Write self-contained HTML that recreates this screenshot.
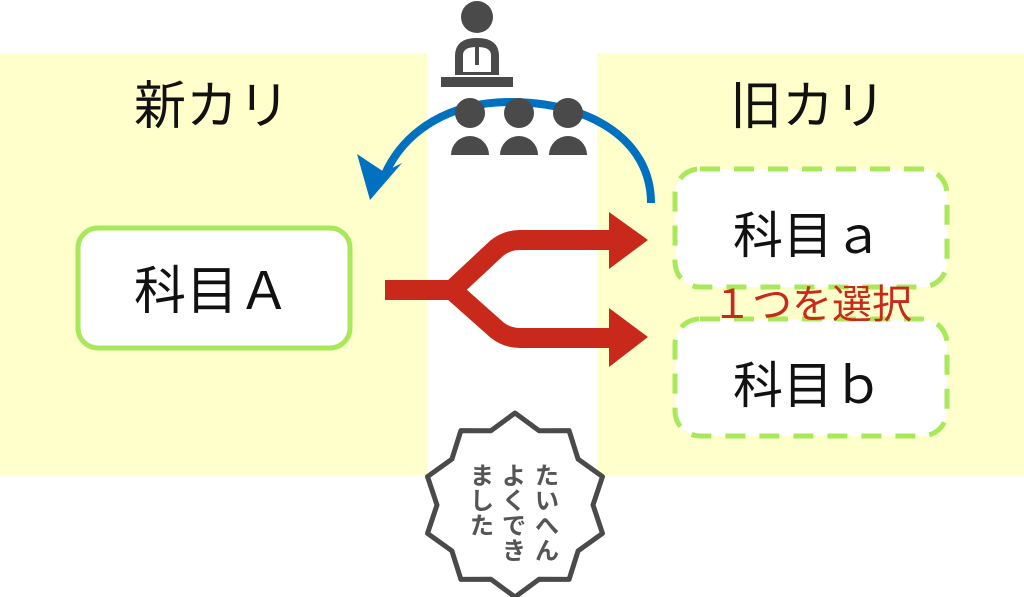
<!DOCTYPE html>
<html><head><meta charset="utf-8"><style>
html,body{margin:0;padding:0;background:#fff}
body{width:1024px;height:597px;position:relative;overflow:hidden;font-family:"Liberation Sans","Noto Sans CJK JP",sans-serif}
</style></head><body>
<svg width="1024" height="597" viewBox="0 0 1024 597" xmlns="http://www.w3.org/2000/svg" style="position:absolute;left:0;top:0">
<rect x="0" y="53" width="427" height="422" fill="#ffffcc"/>
<rect x="597" y="53" width="427" height="422" fill="#ffffcc"/>
<text x="212" y="124" font-size="52" text-anchor="middle" fill="#111" font-family="Noto Sans CJK JP, sans-serif">新カリ</text>
<text x="808" y="124" font-size="52" text-anchor="middle" fill="#111" font-family="Noto Sans CJK JP, sans-serif">旧カリ</text>
<rect x="78" y="228" width="272" height="120" rx="20" fill="#fff" stroke="#a8e85a" stroke-width="5"/>
<text x="212" y="309" font-size="52" text-anchor="middle" fill="#111" font-family="Noto Sans CJK JP, sans-serif">科目Ａ</text>
<rect x="675" y="169" width="272" height="118" rx="25" fill="#fff" stroke="#a8e85a" stroke-width="5" stroke-dasharray="20 14"/>
<rect x="675" y="319" width="272" height="117" rx="25" fill="#fff" stroke="#a8e85a" stroke-width="5" stroke-dasharray="20 14"/>
<text x="808" y="253" font-size="50" text-anchor="middle" fill="#111" font-family="Noto Sans CJK JP, sans-serif">科目ａ</text>
<text x="808" y="403" font-size="50" text-anchor="middle" fill="#111" font-family="Noto Sans CJK JP, sans-serif">科目ｂ</text>
<text x="812" y="318" font-size="40" text-anchor="middle" fill="#c8291a" font-family="Noto Sans CJK JP, sans-serif">１つを選択</text>
<g fill="none" stroke="#c8291a" stroke-width="20">
<path d="M385,290 L455,290"/>
<path d="M452,290 L497,248 Q507,240 520,240 L612,240"/>
<path d="M452,290 L497,330 Q507,338 520,338 L612,338"/>
</g>
<polygon points="609,212 648,240 609,269" fill="#c8291a"/>
<polygon points="609,308 648,337 609,367" fill="#c8291a"/>
<path d="M651,203 C651,140 590,102 510,102 C450,102 405,130 385,174" fill="none" stroke="#0070c0" stroke-width="8"/>
<polygon points="370,200 357,154 384,172 402,163" fill="#0070c0"/>
<g fill="#4a4a4a">
<circle cx="477" cy="17" r="16"/>
<path d="M455,75 L455,56 Q455,38 477,38 Q499,38 499,56 L499,75 Z"/>
<rect x="441" y="77" width="72" height="10"/>
<circle cx="470" cy="113" r="15"/><circle cx="519" cy="113" r="15"/><circle cx="568" cy="113" r="15"/>
<path d="M451,155 A19,19 0 0 1 489,155 Z"/>
<path d="M500,155 A19,19 0 0 1 538,155 Z"/>
<path d="M549,155 A19,19 0 0 1 587,155 Z"/>
</g>
<path d="M463,55 Q463,47 477,47 Q491,47 491,55 L491,72 L463,72 Z" fill="#fff"/>
<rect x="475" y="47" width="4" height="18" fill="#4a4a4a"/>
<polygon points="515,413 539.1,430.8 569.1,430.6 578.1,459.1 602.5,476.6 593,505 602.5,533.4 578.1,550.9 569.1,579.4 539.1,579.2 515,597 490.9,579.2 460.9,579.4 451.9,550.9 427.5,533.4 437,505 427.5,476.6 451.9,459.1 460.9,430.6 490.9,430.8" fill="#fff" stroke="#4a4a4a" stroke-width="5" stroke-linejoin="round"/>
<g font-size="24" fill="#555" font-weight="bold" font-family="Noto Sans CJK JP, sans-serif" text-anchor="middle">
<text x="547" y="484">た</text><text x="547" y="509">い</text><text x="547" y="534">へ</text><text x="547" y="559">ん</text>
<text x="514" y="484">よ</text><text x="514" y="509">く</text><text x="514" y="534">で</text><text x="514" y="559">き</text>
<text x="482" y="484">ま</text><text x="482" y="509">し</text><text x="482" y="534">た</text>
</g>
</svg>
</body></html>
